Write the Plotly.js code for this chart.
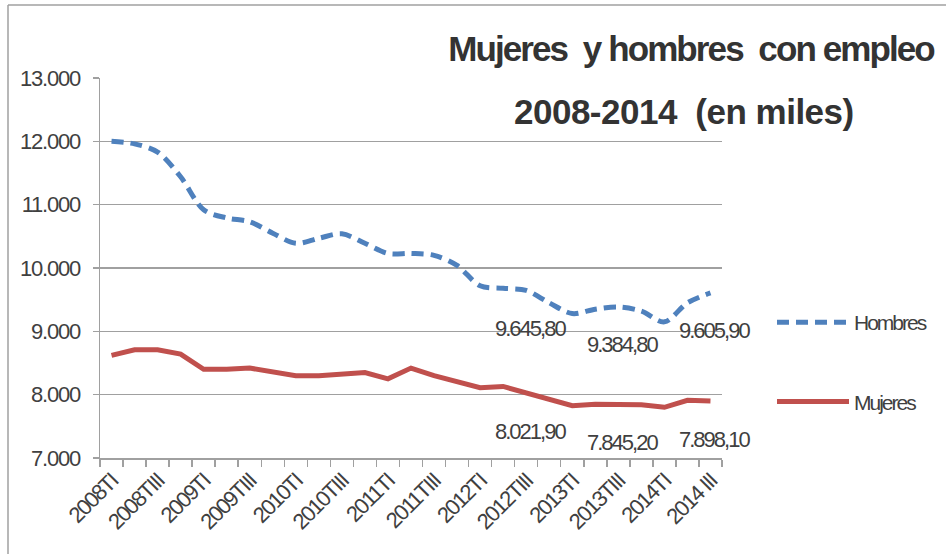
<!DOCTYPE html>
<html>
<head>
<meta charset="utf-8">
<script src="https://cdn.plot.ly/plotly-3.0.1.min.js"></script>
<style>
html,body{margin:0;padding:0;background:#fff;}
#chart{width:946px;height:554px;}
#chart .xtick text{letter-spacing:-1.6px;}
#chart .ytick text{letter-spacing:-1.2px;}
#chart .legendtext{letter-spacing:-2px;}
#chart .annotation-text{letter-spacing:-2px;}
#chart .gtitle{letter-spacing:-1.9px;}
</style>
</head>
<body>
<div id="chart"></div>
<script>
// ---- data ----
const categories = [
  "2008TI","2008TII","2008TIII","2008TIV",
  "2009TI","2009TII","2009TIII","2009TIV",
  "2010TI","2010TII","2010TIII","2010TIV",
  "2011TI","2011TII","2011TIII","2011TIV",
  "2012TI","2012TII","2012TIII","2012TIV",
  "2013TI","2013TII","2013TIII","2013TIV",
  "2014TI","2014TII","2014 III"
];
const hombres = [
  12000, 11960, 11830, 11440,
  10920, 10790, 10730, 10550,
  10390, 10470, 10540, 10390,
  10230, 10230, 10200, 10040,
  9720, 9680, 9645.8, 9450,
  9280, 9350, 9384.8, 9320,
  9150, 9450, 9605.9
];
const mujeres = [
  8620, 8710, 8710, 8640,
  8400, 8400, 8420, 8350,
  8300, 8300, 8330, 8350,
  8250, 8420, 8300, 8200,
  8110, 8130, 8021.9, 7920,
  7825, 7850, 7845.2, 7840,
  7800, 7910, 7898.1
];
const labeledIdx = [18, 22, 26];
const yTicks = [7000, 8000, 9000, 10000, 11000, 12000, 13000];
const titleLine1 = "Mujeres  y hombres  con empleo";
const titleLine2 = "2008-2014  (en miles)";

// ---- helpers ----
function fmtEs(v){
  const parts = v.toFixed(2).split(".");
  const intPart = parts[0].replace(/\B(?=(\d{3})+(?!\d))/g, ".");
  return intPart + "," + parts[1];
}
const fam = "Liberation Sans, Arial, sans-serif";
const txtColor = "#404040";
const gridColor = "#A0A0A0";

const tickText = categories.map((c, i) => (i % 2 === 0 ? c : ""));

const traces = [
  {
    name: "Hombres", x: categories, y: hombres, type: "scatter", mode: "lines",
    line: {color: "#4F81BD", width: 5, dash: "12px,7px", shape: "spline", smoothing: 0.9},
    legendgroup: "h"
  },
  {
    name: "Mujeres", x: categories, y: mujeres, type: "scatter", mode: "lines",
    line: {color: "#C0504D", width: 5},
    legendgroup: "m"
  }
];

const annotations = [];
labeledIdx.forEach(i => {
  annotations.push({x: categories[i], y: hombres[i], xref: "x", yref: "y", text: fmtEs(hombres[i]),
    showarrow: false, yshift: -38, xshift: 4, font: {family: fam, size: 22, color: txtColor}});
  annotations.push({x: categories[i], y: mujeres[i], xref: "x", yref: "y", text: fmtEs(mujeres[i]),
    showarrow: false, yshift: -38, xshift: 4, font: {family: fam, size: 22, color: txtColor}});
});
annotations.push({
  text: '<span style="letter-spacing:-0.5px"><b>' + titleLine2 + "</b></span>", xref: "paper", yref: "paper",
  x: (684 - 100) / 622, y: (458 - 112) / 380, xanchor: "center", yanchor: "middle",
  showarrow: false, font: {family: fam, size: 35, color: "#333333"}
});

const layout = {
  width: 946, height: 554,
  margin: {l: 100, r: 224, t: 78, b: 96, autoexpand: false},
  paper_bgcolor: "#ffffff", plot_bgcolor: "#ffffff",
  separators: ",.",
  title: {
    text: "<b>" + titleLine1 + "</b>",
    x: 691 / 946, xanchor: "center", y: 1 - 49 / 554, yanchor: "middle",
    font: {family: fam, size: 35, color: "#333333"}
  },
  xaxis: {
    type: "category", range: [-0.5, categories.length - 0.5], autorange: false,
    tickmode: "array", tickvals: categories, ticktext: tickText,
    tickson: "boundaries", ticks: "outside", ticklen: 7, tickcolor: gridColor, tickwidth: 1.5,
    tickangle: -45, showgrid: false,
    showline: true, linecolor: gridColor, linewidth: 1.5,
    tickfont: {family: fam, size: 22, color: txtColor},
    zeroline: false
  },
  yaxis: {
    range: [7000, 13000], autorange: false, tickmode: "array", tickvals: yTicks, tickformat: ",",
    ticks: "outside", ticklen: 6, tickcolor: gridColor, tickwidth: 1.5,
    showgrid: true, gridcolor: gridColor, gridwidth: 1.5,
    showline: true, linecolor: gridColor, linewidth: 1.5,
    tickfont: {family: fam, size: 22, color: txtColor},
    ticklabelstandoff: 8, zeroline: false
  },
  showlegend: true,
  legend: {
    x: (772 - 100) / 622, xanchor: "left", y: (458 - 302) / 380, yanchor: "top",
    traceorder: "grouped", tracegroupgap: 49, itemwidth: 72,
    font: {family: fam, size: 21, color: txtColor}, bgcolor: "rgba(0,0,0,0)"
  },
  annotations: annotations,
  shapes: [
    {type: "line", xref: "paper", yref: "paper", x0: (8 - 100) / 622, x1: (8 - 100) / 622,
      y0: (458 - 554) / 380, y1: (458 - 5) / 380, line: {color: gridColor, width: 1.5}},
    {type: "line", xref: "paper", yref: "paper", x0: (8 - 100) / 622, x1: (946 - 100) / 622,
      y0: (458 - 5) / 380, y1: (458 - 5) / 380, line: {color: gridColor, width: 1.5}}
  ]
};

Plotly.newPlot("chart", traces, layout, {staticPlot: true, displayModeBar: false});
</script>
</body>
</html>
